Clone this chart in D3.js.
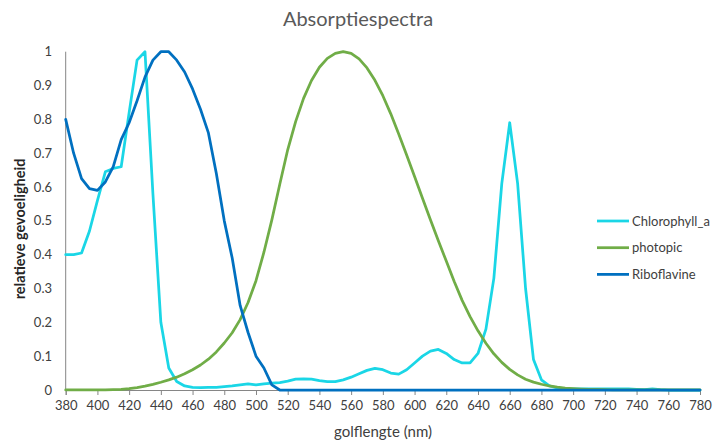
<!DOCTYPE html>
<html><head><meta charset="utf-8">
<script src="https://cdn.jsdelivr.net/npm/d3@7"></script>
<style>
body{margin:0;background:#fff;}
svg{display:block;font-family:Lato,"Open Sans",sans-serif;}
</style></head>
<body><svg id="chart" width="714" height="443"></svg>
<script>
const wavelengths = d3.range(380, 781, 5);
const chlorophyll_a = [
0.40,0.40,0.405,0.47,0.56,0.645,0.655,0.66,0.82,0.975,1.0,0.58,0.2,0.065,0.025,0.012,0.008,0.007,0.008,0.008,
0.01,0.012,0.015,0.018,0.015,0.018,0.02,0.022,0.026,0.032,0.033,0.032,0.028,0.025,0.025,0.03,0.038,0.048,0.058,0.064,
0.06,0.05,0.047,0.06,0.08,0.1,0.115,0.12,0.108,0.09,0.08,0.08,0.108,0.18,0.33,0.61,0.79,0.61,0.3,0.09,
0.03,0.012,0.006,0.004,0.003,0.003,0.003,0.003,0.003,0.003,0.003,0.003,0.002,0.001,0.003,0.001,0,0,0,0,0
];
const photopic = [
0.00004,0.00006,0.00012,0.00022,0.0004,0.00064,0.0012,0.0022,0.004,0.0073,0.0116,0.0168,0.023,0.0298,0.038,0.048,0.06,0.0739,0.091,0.1126,
0.139,0.1693,0.208,0.2586,0.323,0.4073,0.503,0.6082,0.71,0.7932,0.862,0.9149,0.954,0.9803,0.995,1.0,0.995,0.9786,0.952,0.9154,
0.87,0.8163,0.757,0.6949,0.631,0.5668,0.503,0.4412,0.381,0.321,0.265,0.217,0.175,0.1382,0.107,0.0816,0.061,0.0446,0.032,0.0232,
0.017,0.0119,0.0082,0.0057,0.0041,0.0029,0.0021,0.0015,0.001,0.0007,0.0005,0.0004,0.0002,0.0002,0.0001,0.0001,0.00006,0.00004,0.00003,0.00002,0.00002
];
const riboflavine = [
0.80,0.70,0.625,0.595,0.59,0.615,0.66,0.74,0.79,0.855,0.925,0.975,1.0,1.0,0.975,0.94,0.89,0.83,0.76,0.64,
0.5,0.39,0.25,0.17,0.1,0.065,0.015,0,0,0,0,0,0,0,0,0,0,0,0,0,
0,0,0,0,0,0,0,0,0,0,0,0,0,0,0,0,0,0,0,0,
0,0,0,0,0,0,0,0,0,0,0,0,0,0,0,0,0,0,0,0,0
];
const seriesNames = ["Chlorophyll_a","photopic","Riboflavine"];
const seriesColors = ["#1ad6e6","#70ad47","#0070c0"];
const seriesValues = [chlorophyll_a, photopic, riboflavine];
const xTicks = d3.range(380, 781, 20);
const yTicks = [0,0.1,0.2,0.3,0.4,0.5,0.6,0.7,0.8,0.9,1];

const svg = d3.select("#chart");
const x = d3.scaleLinear().domain([380,780]).range([65.7,700]);
const y = d3.scaleLinear().domain([0,1]).range([390,51.7]);

// title
svg.append("text").attr("x",358).attr("y",26).attr("text-anchor","middle")
  .attr("font-size",20).attr("fill","#595959").text("Absorptiespectra");

// y axis line
svg.append("line").attr("x1",x(380)).attr("x2",x(380)).attr("y1",y(1)).attr("y2",y(0))
  .attr("stroke","#868686").attr("stroke-width",1);
// y labels
svg.append("g").selectAll("text").data(yTicks).join("text")
  .attr("x",52).attr("y",d=>y(d)+4.5).attr("text-anchor","end")
  .attr("font-size",13).attr("fill","#404040").text(d=>d===0?"0":d===1?"1":d3.format(".1f")(d));

// x axis
const xAxis = svg.append("g").attr("transform",`translate(0,${y(0)})`)
  .call(d3.axisBottom(x).tickValues(xTicks).tickSize(5).tickPadding(6).tickFormat(d3.format("d")));
xAxis.select(".domain").attr("stroke","#868686");
xAxis.selectAll(".tick line").attr("stroke","#868686");
xAxis.selectAll(".tick text").attr("font-size",13).attr("fill","#404040").attr("font-family","Lato,'Open Sans',sans-serif");

// axis titles
svg.append("text").attr("x",383).attr("y",437).attr("text-anchor","middle")
  .attr("font-size",15).attr("fill","#404040").text("golflengte (nm)");
svg.append("text").attr("transform","translate(25,229) rotate(-90)").attr("text-anchor","middle")
  .attr("font-size",14.5).attr("font-weight","bold").attr("fill","#262626").text("relatieve gevoeligheid");

// lines
const line = d3.line().x((d,i)=>x(wavelengths[i])).y(d=>y(d));
seriesValues.forEach((vals,k)=>{
  svg.append("path").datum(vals).attr("d",line).attr("fill","none")
    .attr("stroke",seriesColors[k]).attr("stroke-width",2.75).attr("stroke-linejoin","round").attr("stroke-linecap","round");
});

// legend
const lg = svg.append("g");
seriesNames.forEach((n,k)=>{
  const yy = 221 + k*26.7;
  lg.append("line").attr("x1",597).attr("x2",629).attr("y1",yy).attr("y2",yy)
    .attr("stroke",seriesColors[k]).attr("stroke-width",2.75);
  lg.append("text").attr("x",632).attr("y",yy+4.5).attr("font-size",13).attr("fill","#404040").text(n);
});
</script></body></html>
